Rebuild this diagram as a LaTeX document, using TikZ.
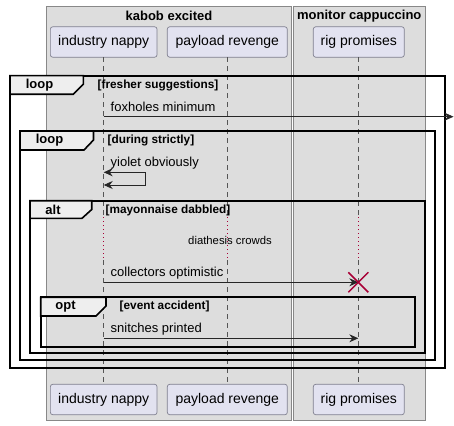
\documentclass[tikz,border=0pt]{standalone}
\usepackage{fontspec}
\setmainfont{Liberation Sans}
\usetikzlibrary{arrows.meta,calc}
\definecolor{grpfill}{HTML}{DDDDDD}
\definecolor{grpdraw}{HTML}{888888}
\definecolor{partfill}{HTML}{E2E2F0}
\definecolor{partdraw}{HTML}{7F7F8F}
\definecolor{tabfill}{HTML}{EEEEEE}
\definecolor{crim}{HTML}{A80036}
\definecolor{lifec}{HTML}{555555}
\tikzset{
  grp/.style={fill=grpfill, draw=grpdraw, line width=0.8pt},
  part/.style={rectangle, rounded corners=2.5pt, fill=partfill, draw=partdraw, line width=0.7pt, font=\fontsize{14}{16}\selectfont, inner sep=0pt, minimum height=30.5pt},
  life/.style={draw=lifec, dash pattern=on 4.5pt off 4.5pt, line width=0.6pt},
  delayl/.style={draw=crim, dash pattern=on 1pt off 3pt, line width=0.6pt},
  frm/.style={draw=black, line width=2pt},
  tabs/.style={fill=tabfill, draw=black, line width=1.6pt},
  kw/.style={font=\bfseries\fontsize{13}{15}\selectfont, inner sep=0pt},
  cond/.style={font=\bfseries\fontsize{11.8}{13}\selectfont, inner sep=0pt, anchor=west},
  msgt/.style={font=\fontsize{13}{15}\selectfont, inner sep=0pt, anchor=west},
  msg/.style={draw=black!85, line width=0.8pt, -{Stealth[length=9pt,width=8pt,inset=3pt]}},
  gtitle/.style={font=\bfseries\fontsize{13}{15}\selectfont, inner sep=0pt},
}
\begin{document}
\begin{tikzpicture}[x=1pt,y=-1pt]
\useasboundingbox (0,0) rectangle (454,425);
\fill[white] (0,0) rectangle (454,425);
% groups
\path[grp] (46.5,6) rectangle (291.7,420);
\path[grp] (293,6) rectangle (425.7,420);
\node[gtitle] (g1) at (169,16) {kabob excited};
\node[gtitle] (g2) at (359.3,16) {monitor cappuccino};
% participants
\node[part, minimum width=106.7pt] (a) at (103.7,42) {industry nappy};
\node[part, minimum width=120pt] (b) at (227.3,42) {payload revenge};
\node[part, minimum width=91pt] (c) at (358.8,42) {rig promises};
\node[part, minimum width=106.7pt] (a2) at (103.7,399.5) {industry nappy};
\node[part, minimum width=120pt] (b2) at (227.3,399.5) {payload revenge};
\node[part, minimum width=91pt] (c2) at (358.8,399.5) {rig promises};
% lifelines
\coordinate (da1) at (103.7,217); \coordinate (da2) at (103.7,260);
\coordinate (db1) at (227.7,217); \coordinate (db2) at (227.7,260);
\coordinate (dc1) at (358.3,217); \coordinate (dc2) at (358.3,260);
\draw[life] (103.7,57.3) -- (da1);
\draw[life] (da2) -- (103.7,383.3);
\draw[life] (227.7,57.3) -- (db1);
\draw[life] (db2) -- (227.7,383.3);
\draw[life] (358.3,57.3) -- (dc1);
\draw[life] (dc2) -- (358.3,383.3);
\draw[delayl] (da1) -- (da2);
\draw[delayl] (db1) -- (db2);
\draw[delayl] (dc1) -- (dc2);
% outer loop
\draw[frm] (10,75.7) rectangle (445,367.7);
\draw[tabs] (10,75.7) -- (83.3,75.7) -- (83.3,84.3) -- (73.3,94.3) -- (10,94.3) -- cycle;
\node[kw] (l1) at (39.5,85) {loop};
\node[cond] (c1) at (97.5,85) {[fresher suggestions]};
% message 1
\coordinate (m1s) at (103.7,116.7);
\coordinate (m1e) at (453.5,116.7);
\node[msgt] (t1) at (110.5,107) {foxholes minimum};
\draw[msg] (m1s) -- (m1e);
% inner loop
\draw[frm] (20,131) rectangle (435,360);
\draw[tabs] (20,131) -- (93.5,131) -- (93.5,140) -- (84,150) -- (20,150) -- cycle;
\node[kw] (l2) at (49.5,140.5) {loop};
\node[cond] (c2t) at (107.5,140.5) {[during strictly]};
% self message
\coordinate (s1) at (103.7,172.3);
\coordinate (s2) at (145.7,172.3);
\coordinate (s3) at (145.7,185);
\coordinate (s4) at (103.7,185);
\node[msgt] (t2) at (110.5,163.5) {yiolet obviously};
\draw[draw=black!85, line width=0.8pt, {Stealth[length=9pt,width=8pt,inset=3pt]}-{Stealth[length=9pt,width=8pt,inset=3pt]}] (s1) -- (s2) -- (s3) -- (s4);
% alt
\draw[frm] (30,200.7) rectangle (425,353.3);
\draw[tabs] (30,200.7) -- (91.7,200.7) -- (91.7,209.5) -- (82,218.3) -- (30,218.3) -- cycle;
\node[kw] (l3) at (53,210) {alt};
\node[cond] (c3) at (105.5,210.3) {[mayonnaise dabbled]};
\node[font=\fontsize{11.3}{13}\selectfont, inner sep=0pt] (dl) at (230,240.5) {diathesis crowds};
% message collectors
\coordinate (m3s) at (103.7,282.3);
\coordinate (m3e) at (358.3,282.3);
\node[msgt] (t3) at (110.5,273) {collectors optimistic};
\draw[msg] (m3s) -- (m3e);
\draw[crim, line width=1.5pt] ($(m3e)+(-10,-10)$) -- ($(m3e)+(10,10)$);
\draw[crim, line width=1.5pt] ($(m3e)+(-10,10)$) -- ($(m3e)+(10,-10)$);
% opt
\draw[frm] (40.7,297.3) rectangle (415,346.7);
\draw[tabs] (40.7,297.3) -- (106,297.3) -- (106,306) -- (96,316) -- (40.7,316) -- cycle;
\node[kw] (l4) at (65.5,307) {opt};
\node[cond] (c4) at (119.5,306.5) {[event accident]};
\coordinate (m4s) at (103.7,338.3);
\coordinate (m4e) at (358.3,338.3);
\node[msgt] (t4) at (110.5,329) {snitches printed};
\draw[msg] (m4s) -- (m4e);
\end{tikzpicture}
\end{document}
